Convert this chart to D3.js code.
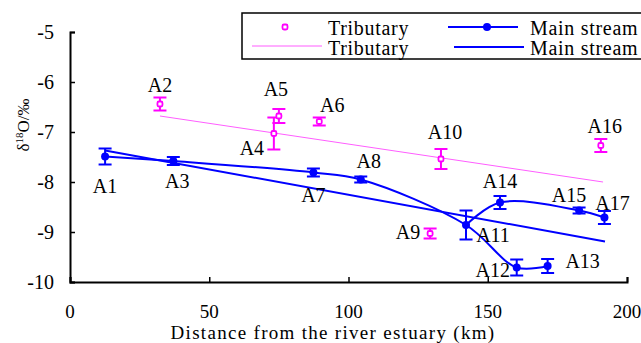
<!DOCTYPE html>
<html>
<head>
<meta charset="utf-8">
<script src="https://cdn.jsdelivr.net/npm/d3@7"></script>
<style>
  body { margin: 0; background: #fff; }
</style>
</head>
<body>
<div id="chart"></div>
<script>
// tributary samples: name, distance (km), delta18O, error
const tribNames = ['A2', 'A4', 'A5', 'A6', 'A9', 'A10', 'A16'];
const tribDist = [32.3, 73.2, 75.0, 89.5, 129.3, 133.2, 190.6];
const tribValue = [-6.44, -7.03, -6.68, -6.79, -9.03, -7.54, -7.27];
const tribErr = [0.13, 0.32, 0.14, 0.08, 0.10, 0.20, 0.13];

// main stream samples
const mainNames = ['A1', 'A3', 'A7', 'A8', 'A11', 'A12', 'A13', 'A14', 'A15', 'A17'];
const mainDist = [12.6, 37.1, 87.4, 104.4, 142.2, 160.4, 171.5, 154.4, 182.8, 191.9];
const mainValue = [-7.49, -7.58, -7.81, -7.95, -8.86, -9.71, -9.68, -8.41, -8.57, -8.71];
const mainErr = [0.16, 0.08, 0.08, 0.06, 0.29, 0.16, 0.14, 0.13, 0.06, 0.13];

// smoothed main stream lines (two reaches)
const mainReach1 = ['A1', 'A3', 'A7', 'A8', 'A11', 'A12', 'A13'];
const mainReach2 = ['A11', 'A14', 'A15', 'A17'];

// linear trend lines (end points)
const tribTrend = [[32.3, -6.68], [191.4, -8.0]];
const mainTrend = [[12.6, -7.37], [192.1, -9.19]];

const xTicks = [0, 50, 100, 150, 200];
const yTicks = [-5, -6, -7, -8, -9, -10];

// label placement relative to the marker (px)
const labelPos = {
  A1: [0, 36], A2: [0, -12], A3: [4, 27], A4: [-22, 21], A5: [-3, -20], A6: [13, -10],
  A7: [0, 29], A8: [8, -12], A9: [-22, 5], A10: [4, -20], A11: [27, 17], A12: [-24, 9],
  A13: [35, 2], A14: [0, -15], A15: [-10, -9], A16: [4, -13], A17: [8, -8]
};

const W = 641, H = 343;
const MAGENTA = '#ff00ff', BLUE = '#0000ff';
const FONT = 'Liberation Serif, DejaVu Serif, Times New Roman, serif';

const svg = d3.select('#chart').append('svg')
  .attr('width', W).attr('height', H)
  .attr('font-family', FONT);

const x = d3.scaleLinear().domain([0, 200]).range([70, 627]);
const y = d3.scaleLinear().domain([-10, -5]).range([282, 32]);

// axes
const xAxis = svg.append('g').attr('transform', `translate(0,${y(-10)})`)
  .call(d3.axisBottom(x).tickValues(xTicks).tickSize(-5).tickFormat(''));
const yAxis = svg.append('g').attr('transform', `translate(${x(0)},0)`)
  .call(d3.axisLeft(y).tickValues(yTicks).tickSize(-5).tickFormat(''));
[xAxis, yAxis].forEach(a => {
  a.attr('font-family', null);
  a.select('.domain').attr('stroke', '#000').attr('stroke-width', 2);
  a.selectAll('.tick line').attr('stroke', '#000').attr('stroke-width', 1.5);
});

function label(sel) {
  return sel.attr('font-family', FONT).attr('fill', '#000');
}

label(svg.selectAll('.xlab').data(xTicks).enter().append('text'))
  .attr('x', d => x(d)).attr('y', 318)
  .attr('text-anchor', 'middle').attr('font-size', 19)
  .text(d => d);
label(svg.selectAll('.ylab').data(yTicks).enter().append('text'))
  .attr('x', 54).attr('y', d => y(d) + 7)
  .attr('text-anchor', 'end').attr('font-size', 20)
  .text(d => d);

label(svg.append('text'))
  .attr('x', 333).attr('y', 339)
  .attr('text-anchor', 'middle').attr('font-size', 19)
  .attr('letter-spacing', 1.3)
  .text('Distance from the river estuary (km)');

const yt = label(svg.append('text'))
  .attr('transform', 'translate(29,125) rotate(-90)')
  .attr('text-anchor', 'middle').attr('font-size', 17);
yt.append('tspan').text('δ');
yt.append('tspan').attr('font-size', 11).attr('dy', -6).text('18');
yt.append('tspan').attr('dy', 6).text('O/‰');

const line = d3.line().x(d => x(d[0])).y(d => y(d[1]));

// trend lines
svg.append('path').attr('d', line(tribTrend))
  .attr('fill', 'none').attr('stroke', MAGENTA).attr('stroke-width', 0.8).attr('opacity', 0.8);
svg.append('path').attr('d', line(mainTrend))
  .attr('fill', 'none').attr('stroke', BLUE).attr('stroke-width', 2);

// smoothed main stream
const mainPt = n => { const i = mainNames.indexOf(n); return [mainDist[i], mainValue[i]]; };
const smooth = d3.line().x(d => x(d[0])).y(d => y(d[1])).curve(d3.curveCatmullRom.alpha(0.5));
[mainReach1, mainReach2].forEach(r => {
  svg.append('path').attr('d', smooth(r.map(mainPt)))
    .attr('fill', 'none').attr('stroke', BLUE).attr('stroke-width', 2);
});

function errorBars(names, dist, vals, errs, color) {
  const g = svg.append('g').attr('stroke', color).attr('stroke-width', 2).attr('fill', 'none');
  names.forEach((n, i) => {
    const cx = x(dist[i]), y1 = y(vals[i] + errs[i]), y2 = y(vals[i] - errs[i]);
    g.append('line').attr('x1', cx).attr('x2', cx).attr('y1', y1).attr('y2', y2);
    g.append('line').attr('x1', cx - 6.5).attr('x2', cx + 6.5).attr('y1', y1).attr('y2', y1);
    g.append('line').attr('x1', cx - 6.5).attr('x2', cx + 6.5).attr('y1', y2).attr('y2', y2);
  });
}
errorBars(tribNames, tribDist, tribValue, tribErr, MAGENTA);
errorBars(mainNames, mainDist, mainValue, mainErr, BLUE);

// markers
svg.selectAll('.trib').data(tribNames).enter().append('rect')
  .attr('x', (d, i) => x(tribDist[i]) - 2.5).attr('y', (d, i) => y(tribValue[i]) - 2.5)
  .attr('width', 5).attr('height', 5).attr('rx', 1.5)
  .attr('fill', '#fff').attr('stroke', MAGENTA).attr('stroke-width', 1.8);
svg.selectAll('.main').data(mainNames).enter().append('circle')
  .attr('cx', (d, i) => x(mainDist[i])).attr('cy', (d, i) => y(mainValue[i]))
  .attr('r', 4).attr('fill', BLUE);

// point labels
const allNames = tribNames.concat(mainNames);
const allDist = tribDist.concat(mainDist);
const allValue = tribValue.concat(mainValue);
label(svg.selectAll('.plab').data(allNames).enter().append('text'))
  .attr('x', (d, i) => x(allDist[i]) + labelPos[d][0])
  .attr('y', (d, i) => y(allValue[i]) + labelPos[d][1])
  .attr('text-anchor', 'middle').attr('font-size', 20)
  .text(d => d);

// legend
const lg = svg.append('g');
lg.append('rect').attr('x', 242).attr('y', 13).attr('width', 420).attr('height', 46)
  .attr('fill', '#fff').attr('stroke', '#000').attr('stroke-width', 1.5);
lg.append('rect').attr('x', 282.5).attr('y', 24.5).attr('width', 5).attr('height', 5).attr('rx', 1.5)
  .attr('fill', '#fff').attr('stroke', MAGENTA).attr('stroke-width', 1.8);
lg.append('line').attr('x1', 252).attr('x2', 322).attr('y1', 46).attr('y2', 46)
  .attr('stroke', MAGENTA).attr('stroke-width', 0.8).attr('opacity', 0.8);
lg.append('line').attr('x1', 448).attr('x2', 518).attr('y1', 27).attr('y2', 27)
  .attr('stroke', BLUE).attr('stroke-width', 2);
lg.append('circle').attr('cx', 487).attr('cy', 27).attr('r', 4).attr('fill', BLUE);
lg.append('line').attr('x1', 454).attr('x2', 524).attr('y1', 47).attr('y2', 47)
  .attr('stroke', BLUE).attr('stroke-width', 2);
[['Tributary', 328, 35], ['Tributary', 328, 55], ['Main stream', 530, 35], ['Main stream', 530, 55]]
  .forEach(t => label(lg.append('text')).attr('x', t[1]).attr('y', t[2]).attr('font-size', 20)
    .attr('letter-spacing', 0.7).text(t[0]));
</script>
</body>
</html>
